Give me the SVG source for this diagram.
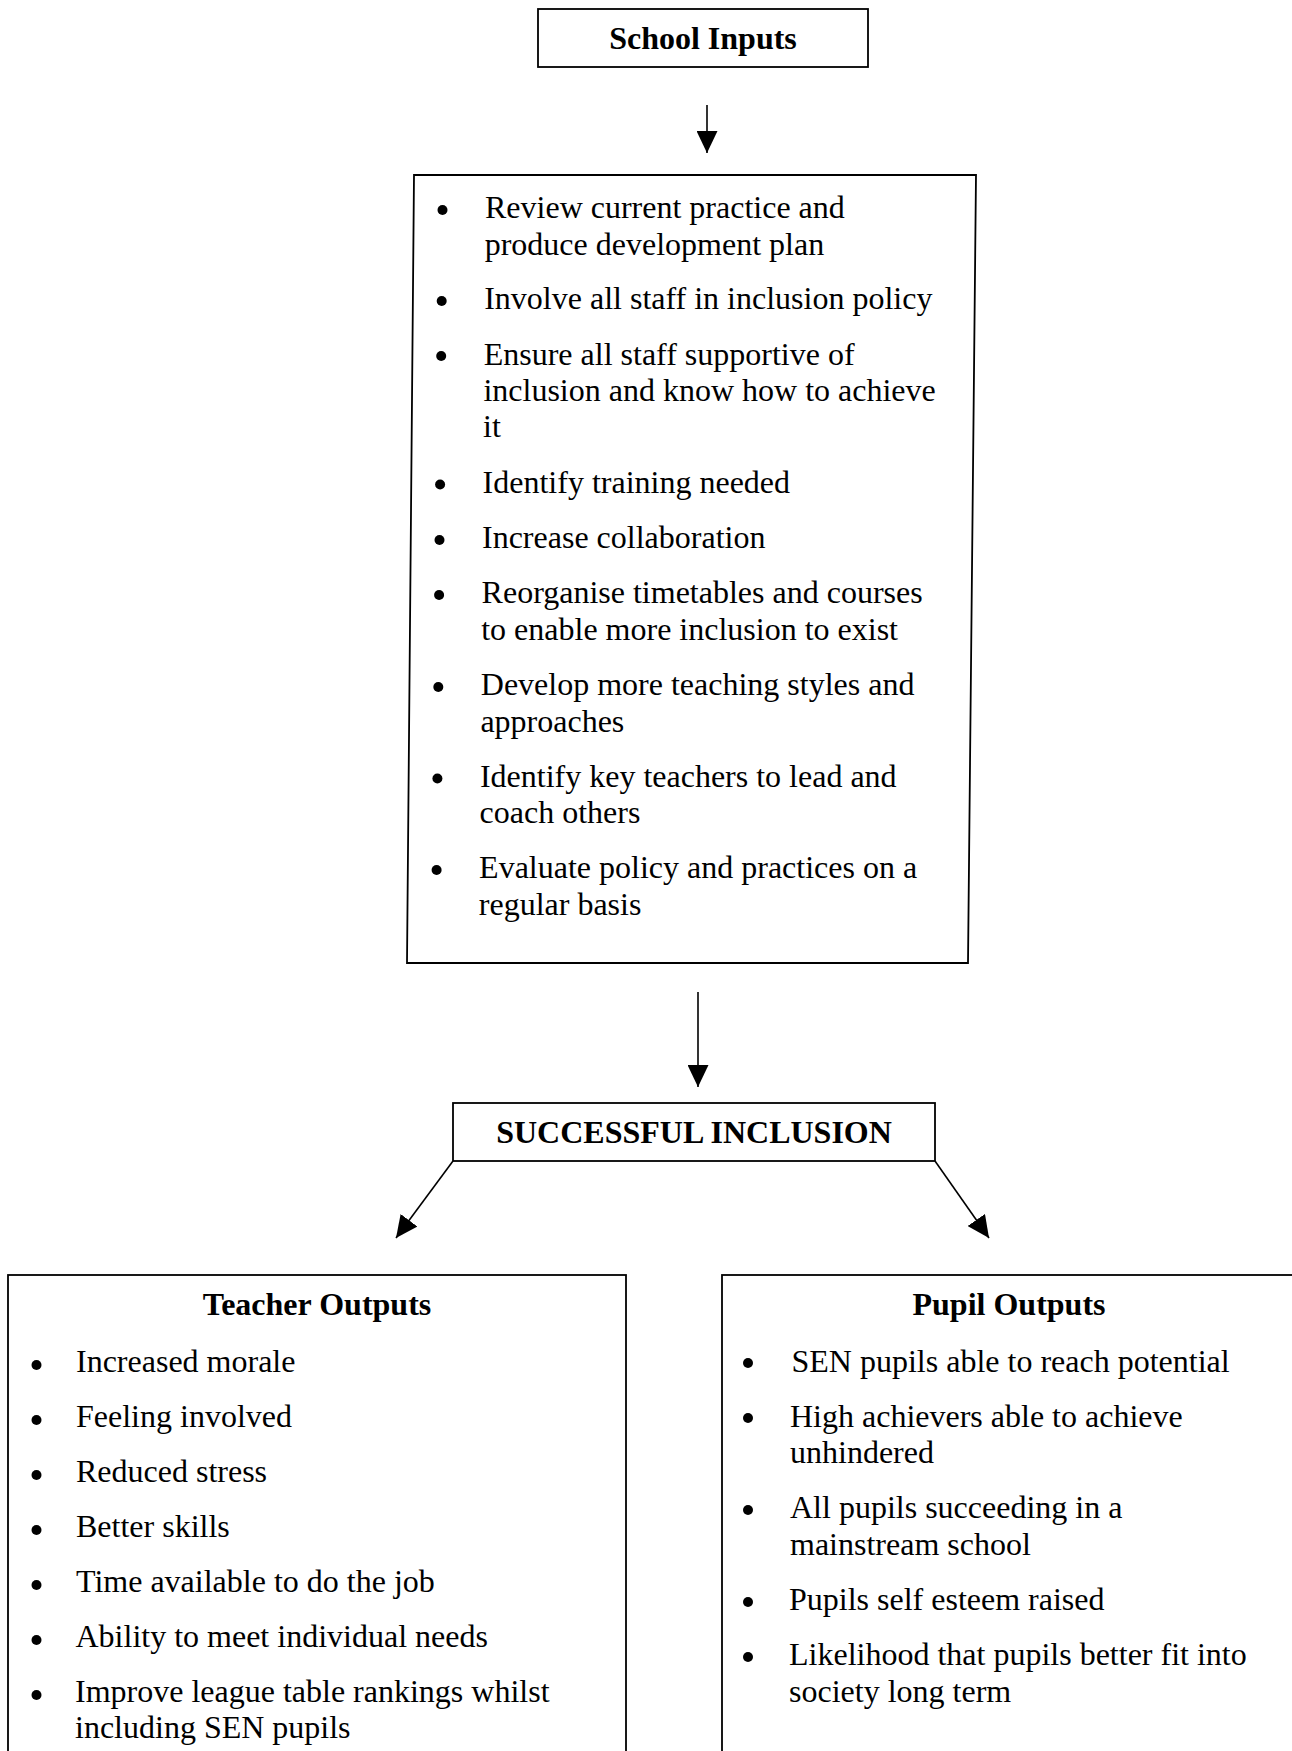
<svg xmlns="http://www.w3.org/2000/svg" width="1292" height="1751" viewBox="0 0 1292 1751">
<defs>
<marker id="ah" markerUnits="userSpaceOnUse" markerWidth="23" markerHeight="21" refX="22" refY="10.5" orient="auto">
<path d="M0,0 L22,10.5 L0,21 z" fill="#000"/>
</marker>
<style>
.box{fill:#fff;stroke:#000;stroke-width:1.8}
.t{font-family:"Liberation Serif","Times New Roman",serif;font-size:32px;fill:#000}
.h{font-family:"Liberation Serif","Times New Roman",serif;font-size:32px;font-weight:bold;fill:#000;text-anchor:middle}
.b{fill:#000}
.c{stroke:#000;stroke-width:1.6;fill:none;marker-end:url(#ah)}
</style>
</defs>
<rect width="1292" height="1751" fill="#fff"/>

<g id="connectors">
<line class="c" x1="707" y1="105" x2="707" y2="153"/>
<line class="c" x1="698" y1="992" x2="698" y2="1087"/>
<line class="c" x1="453" y1="1161" x2="396" y2="1238"/>
<line class="c" x1="935" y1="1161" x2="989" y2="1238"/>
</g>

<g id="school-inputs">
<rect class="box" x="538" y="9" width="330" height="58"/>
<text class="h" x="703" y="49">School Inputs</text>
</g>

<g id="inputs-list">
<polygon class="box" points="414,175 976,175 968,963 407,963"/>
<circle class="b" cx="442.5" cy="210" r="5"/>
<text class="t" x="485" y="218">Review current practice and</text>
<text class="t" x="484.7" y="254.5">produce development plan</text>
<circle class="b" cx="441.7" cy="301" r="5"/>
<text class="t" x="484.2" y="309.3">Involve all staff in inclusion policy</text>
<circle class="b" cx="441.2" cy="356" r="5"/>
<text class="t" x="483.7" y="364.5">Ensure all staff supportive of</text>
<text class="t" x="483.4" y="401">inclusion and know how to achieve</text>
<text class="t" x="483" y="437">it</text>
<circle class="b" cx="440.1" cy="484.5" r="5"/>
<text class="t" x="482.6" y="492.7">Identify training needed</text>
<circle class="b" cx="439.5" cy="540" r="5"/>
<text class="t" x="482" y="548.3">Increase collaboration</text>
<circle class="b" cx="439.1" cy="595" r="5"/>
<text class="t" x="481.6" y="603.3">Reorganise timetables and courses</text>
<text class="t" x="481.2" y="640">to enable more inclusion to exist</text>
<circle class="b" cx="438.3" cy="687" r="5"/>
<text class="t" x="480.8" y="695">Develop more teaching styles and</text>
<text class="t" x="480.4" y="731.7">approaches</text>
<circle class="b" cx="437.4" cy="778.5" r="5"/>
<text class="t" x="479.9" y="786.7">Identify key teachers to lead and</text>
<text class="t" x="479.6" y="823.3">coach others</text>
<circle class="b" cx="436.6" cy="870" r="5"/>
<text class="t" x="479.1" y="878.3">Evaluate policy and practices on a</text>
<text class="t" x="478.8" y="915">regular basis</text>
</g>

<g id="successful-inclusion">
<rect class="box" x="453" y="1103" width="482" height="58"/>
<text class="h" x="694" y="1143">SUCCESSFUL INCLUSION</text>
</g>

<g id="teacher-outputs">
<rect class="box" x="8" y="1275" width="618" height="500"/>
<text class="h" x="317" y="1315">Teacher Outputs</text>
<circle class="b" cx="36.5" cy="1365" r="5"/>
<text class="t" x="76" y="1371.7">Increased morale</text>
<circle class="b" cx="36.5" cy="1420" r="5"/>
<text class="t" x="76" y="1426.7">Feeling involved</text>
<circle class="b" cx="36.5" cy="1475" r="5"/>
<text class="t" x="76" y="1481.7">Reduced stress</text>
<circle class="b" cx="36.5" cy="1530" r="5"/>
<text class="t" x="76" y="1536.7">Better skills</text>
<circle class="b" cx="36.5" cy="1585" r="5"/>
<text class="t" x="76" y="1591.7">Time available to do the job</text>
<circle class="b" cx="36.5" cy="1640" r="5"/>
<text class="t" x="75.5" y="1646.7">Ability to meet individual needs</text>
<circle class="b" cx="36.5" cy="1695" r="5"/>
<text class="t" x="75" y="1701.7">Improve league table rankings whilst</text>
<text class="t" x="75" y="1738.3">including SEN pupils</text>
</g>

<g id="pupil-outputs">
<rect class="box" x="722" y="1275" width="574" height="500"/>
<text class="h" x="1009" y="1315">Pupil Outputs</text>
<circle class="b" cx="748" cy="1363" r="5"/>
<text class="t" x="791.5" y="1371.7">SEN pupils able to reach potential</text>
<circle class="b" cx="748" cy="1418" r="5"/>
<text class="t" x="790" y="1426.7">High achievers able to achieve</text>
<text class="t" x="790" y="1462.5">unhindered</text>
<circle class="b" cx="748" cy="1510" r="5"/>
<text class="t" x="790" y="1518.3">All pupils succeeding in a</text>
<text class="t" x="790" y="1555">mainstream school</text>
<circle class="b" cx="748" cy="1602" r="5"/>
<text class="t" x="789" y="1610">Pupils self esteem raised</text>
<circle class="b" cx="748" cy="1657" r="5"/>
<text class="t" x="789" y="1665">Likelihood that pupils better fit into</text>
<text class="t" x="789" y="1701.7">society long term</text>
</g>
</svg>
